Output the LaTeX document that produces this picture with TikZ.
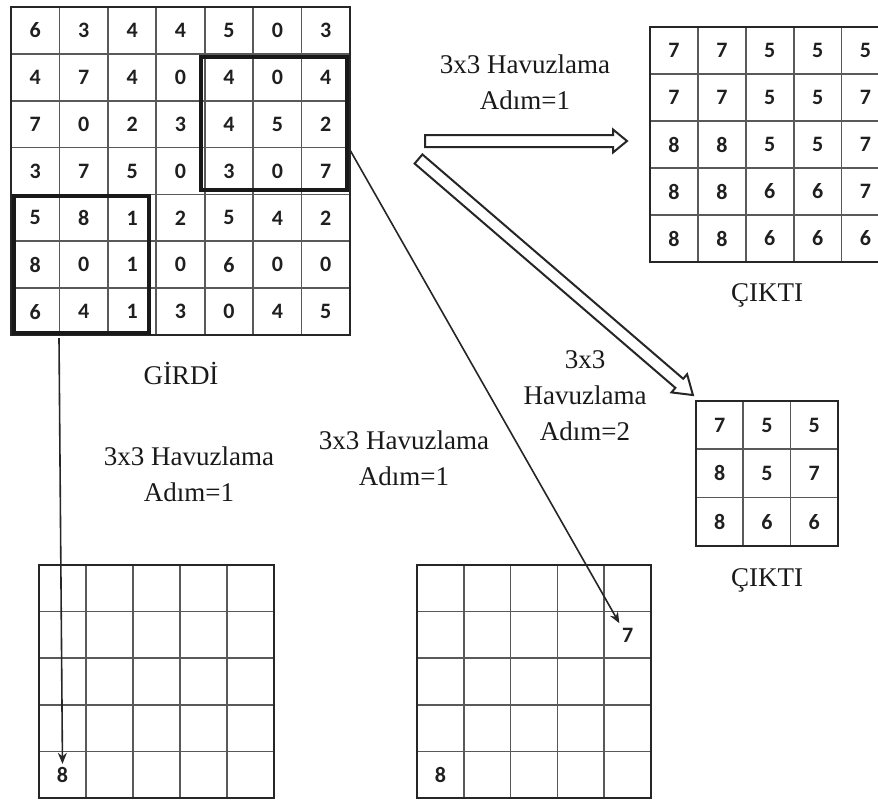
\documentclass[tikz,border=0pt]{standalone}
\usepackage{fontspec}
\setmainfont{Liberation Serif}
\newfontfamily\digitfont{Carlito}[UprightFont={* Bold}]
\usetikzlibrary{arrows.meta,calc}

% #1 name, #2 x0, #3 y0, #4 columns, #5 rows, #6 cell width, #7 cell height
\newcommand\cellgrid[7]{%
  \foreach \c in {1,...,#4}{\draw[gridline] ({#2+\c*#6},#3) -- ({#2+\c*#6},{#3+#5*#7});}
  \foreach \r in {1,...,#5}{\draw[gridline] (#2,{#3+\r*#7}) -- ({#2+#4*#6},{#3+\r*#7});}
  \draw[frame] (#2,#3) rectangle ({#2+#4*#6},{#3+#5*#7});
  \coordinate (#1-nw) at (#2,#3);
}
% #1 name, #2 x0, #3 y0, #4 cell width, #5 cell height, #6 rows of values
\newcommand\cellvalues[6]{%
  \foreach \row [count=\r from 0] in {#6}{
    \foreach \v [count=\c from 0] in \row{
      \node[num] (#1-\r-\c) at ({#2+(\c+0.5)*#4},{#3+(\r+0.5)*#5}) {\v};
    }
  }
}

\begin{document}
\begin{tikzpicture}[x=1pt,y=-1pt,
  gridline/.style={draw=black!65, line width=1.7pt},
  frame/.style={draw=black!85, line width=2pt},
  thickbox/.style={draw=black!90, line width=4.2pt},
  num/.style={font=\digitfont\fontsize{22}{22}\selectfont, text=black!88, inner sep=0pt},
  lbl/.style={font=\fontsize{27}{36}\selectfont, align=center, inner sep=0pt, text=black!90},
  hollow/.style={draw=black!85, line width=2pt, fill=white, line join=miter},
  pointer/.style={draw=black!85, line width=1.6pt, -{Stealth[length=11pt,width=9pt]}}
]
\useasboundingbox (0,0) rectangle (878,801);
\clip (0,0) rectangle (878,801);

% input matrix
\cellgrid{in}{11}{7}{7}{7}{48.43}{46.86}
\cellvalues{in}{11}{7}{48.43}{46.86}{{6,3,4,4,5,0,3},{4,7,4,0,4,0,4},{7,0,2,3,4,5,2},{3,7,5,0,3,0,7},{5,8,1,2,5,4,2},{8,0,1,0,6,0,0},{6,4,1,3,0,4,5}}
\draw[thickbox] (201,57) rectangle (347,190);
\draw[thickbox] (14,196) rectangle (149,333);
\node[lbl] (girdi) at (181,373) {GİRDİ};

% output, stride 1
\cellgrid{oa}{650}{27}{5}{5}{47.9}{47}
\cellvalues{oa}{650}{27}{47.9}{47}{{7,7,5,5,5},{7,7,5,5,7},{8,8,5,5,7},{8,8,6,6,7},{8,8,6,6,6}}
\node[lbl] (cikti1) at (767,295) {ÇIKTI};

% output, stride 2
\cellgrid{ob}{696}{401}{3}{3}{47.3}{48.3}
\cellvalues{ob}{696}{401}{47.3}{48.3}{{7,5,5},{8,5,7},{8,6,6}}
\node[lbl] (cikti2) at (767,580) {ÇIKTI};

% empty result grids being filled
\cellgrid{bl}{39}{565}{5}{5}{47}{46.6}
\node[num] (bl-4-0) at ({39+0.5*47},{565+4.5*46.6}) {8};
\cellgrid{br}{417}{565}{5}{5}{46.8}{46.6}
\node[num] (br-1-4) at ({417+4.5*46.8},{565+1.5*46.6}) {7};
\node[num] (br-4-0) at ({417+0.5*46.8},{565+4.5*46.6}) {8};

% labels
\node[lbl] (lab1) at (525,82) {3x3 Havuzlama\\Adım=1};
\node[lbl] (lab2) at (585,396) {3x3\\Havuzlama\\Adım=2};
\node[lbl] (lab3) at (189,474) {3x3 Havuzlama\\Adım=1};
\node[lbl] (lab4) at (404,458) {3x3 Havuzlama\\Adım=1};

% hollow arrows
\begin{scope}[shift={(425,141)}]
  \draw[hollow] (0,-6) -- (188,-6) -- (188,-11.5) -- (202,0) -- (188,11.5) -- (188,6) -- (0,6) -- cycle;
\end{scope}
\begin{scope}[shift={(418.5,159)}, rotate=-40.7]
  \draw[hollow] (0,-6) -- (344,-6) -- (344,-12) -- (362,0) -- (344,12) -- (344,6) -- (0,6) -- cycle;
\end{scope}

% window-to-result pointers
\coordinate (p1) at (59,338);
\coordinate (p2) at (350,150);
\draw[pointer, shorten >=3pt] (p1) -- (bl-4-0.north);
\draw[pointer, shorten >=5pt] (p2) -- (br-1-4.north west);
\end{tikzpicture}
\end{document}
